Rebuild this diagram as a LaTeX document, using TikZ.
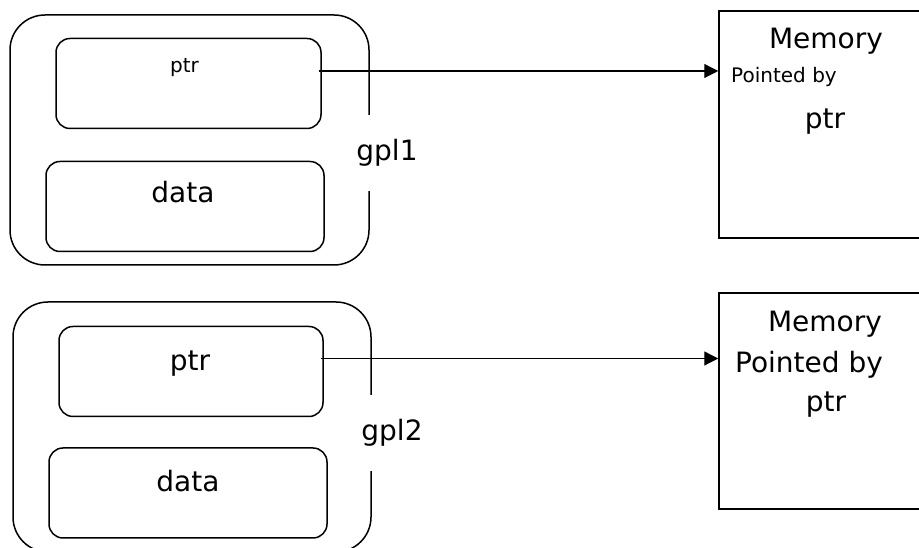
\documentclass[tikz,border=0pt]{standalone}
\usepackage{fontspec}
\setmainfont{DejaVu Sans}
\usepackage{tikz}
\usetikzlibrary{arrows.meta}

\begin{document}
\begin{tikzpicture}[x=1pt, y=1pt, line width=1.5pt,
  big/.style={inner sep=0pt, font=\fontsize{28}{32}\selectfont},
  small/.style={inner sep=0pt, font=\fontsize{20}{24}\selectfont},
  outer/.style={draw, rounded corners=35pt, minimum width=#1, minimum height=250pt, inner sep=0pt},
  field/.style={draw, rounded corners=14pt, minimum width=#1, minimum height=90pt, inner sep=0pt},
  mem/.style={draw, minimum width=240pt, minimum height=#1, inner sep=0pt},
  gap/.style={big, fill=white, minimum height=76pt, inner xsep=2pt},
  arr/.style={-{Triangle[length=14pt, width=14pt]}, line width=1.2pt}]
\clip (0,0) rectangle (919,548);
% first object
\node[outer=359pt] (gplA) at (189.5,408) {};
\node[field=265pt] (ptrA) at (188.5,464.5) {};
\node[field=278pt] (dataA) at (185,341.5) {};
\node[small] (ptrAtxt) at (184.5,480) {ptr};
\node[big] (dataAtxt) at (183,356) {data};
\node[gap] (gplAtxt) at (387,395) {gpl1};
\node[mem=227pt] (memA) at (839,423.5) {};
\node[big] (memAtxt) at (826,506.5) {Memory};
\node[small] (memAby) at (784,471) {Pointed by};
\node[big] (memAptr) at (825,426) {ptr};
\draw[arr] ([xshift=-3pt, yshift=12.5pt]ptrA.east) -- ([yshift=12.5pt]ptrA.east -| memA.west);
% second object
\node[outer=358pt] (gplB) at (192,121) {};
\node[field=264pt] (ptrB) at (191,176.5) {};
\node[field=278pt] (dataB) at (188,55) {};
\node[big] (ptrBtxt) at (190,184) {ptr};
\node[big] (dataBtxt) at (188,67) {data};
\node[gap] (gplBtxt) at (392,115) {gpl2};
\node[mem=216pt] (memB) at (839,147) {};
\node[big] (memBtxt) at (825,223.5) {Memory};
\node[big] (memBby) at (809,183.5) {Pointed by};
\node[big] (memBptr) at (826,143) {ptr};
\draw[arr] ([xshift=-3pt, yshift=13pt]ptrB.east) -- ([yshift=13pt]ptrB.east -| memB.west);
\end{tikzpicture}
\end{document}
